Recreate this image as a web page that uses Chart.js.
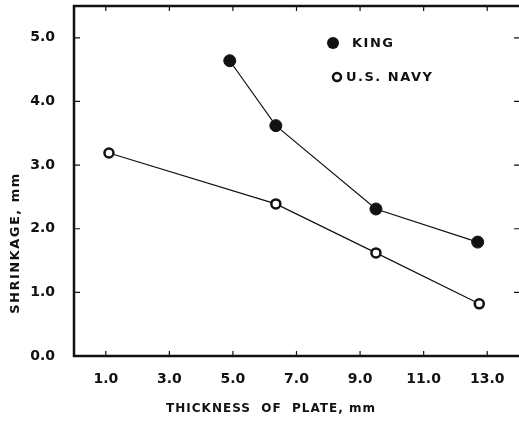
<!DOCTYPE html>
<html>
<head>
<meta charset="utf-8">
<script src="https://cdn.jsdelivr.net/npm/chart.js@4.4.1/dist/chart.umd.min.js"></script>
<style>
  html, body { margin: 0; padding: 0; background: #fff; }
  #wrap { width: 519px; height: 422px; }
</style>
</head>
<body>
<div id="wrap"><canvas id="c"></canvas></div>
<script>
// Shrinkage vs plate thickness

const kingThickness = [4.9, 6.35, 9.5, 12.7];
const kingShrinkage = [4.64, 3.62, 2.31, 1.79];
const navyThickness = [1.1, 6.35, 9.5, 12.75];
const navyShrinkage = [3.19, 2.39, 1.62, 0.82];
const xTicks = [1, 3, 5, 7, 9, 11, 13];
const yTicks = [0, 1, 2, 3, 4, 5];

const ink = "#111";
const tickFont = { family: "DejaVu Sans", weight: "bold", size: 14 };

function pts(xs, ys) {
    return xs.map((x, i) => ({ x: x, y: ys[i] }));
}

// frame, inward ticks, axis titles, legend
const decor = {
    id: "decor",
    afterDraw(chart) {
        const ctx = chart.ctx;
        const a = chart.chartArea;
        const xs = chart.scales.x, ys = chart.scales.y;
        ctx.save();
        ctx.strokeStyle = ink;
        ctx.lineWidth = 2.5;
        // right side of the frame falls just outside the picture
        ctx.beginPath();
        ctx.moveTo(a.right + 2, a.top);
        ctx.lineTo(a.left, a.top);
        ctx.lineTo(a.left, a.bottom);
        ctx.lineTo(a.right + 2, a.bottom);
        ctx.stroke();

        ctx.lineWidth = 1.2;
        ctx.beginPath();
        xTicks.forEach(v => {
            const px = xs.getPixelForValue(v);
            ctx.moveTo(px, a.bottom); ctx.lineTo(px, a.bottom - 5);
            ctx.moveTo(px, a.top); ctx.lineTo(px, a.top + 5);
        });
        yTicks.forEach(v => {
            const py = ys.getPixelForValue(v);
            ctx.moveTo(a.left, py); ctx.lineTo(a.left + 6, py);
            ctx.moveTo(a.right + 1, py); ctx.lineTo(a.right - 5, py);
        });
        ctx.stroke();

        ctx.fillStyle = ink;
        ctx.textBaseline = "middle";
        ctx.textAlign = "center";
        ctx.font = "bold 12px 'DejaVu Sans'";
        ctx.letterSpacing = "1px";
        ctx.fillText("THICKNESS  OF  PLATE, mm", 271, 409);

        ctx.save();
        ctx.translate(16, 243);
        ctx.rotate(-Math.PI / 2);
        ctx.font = "bold 13px 'DejaVu Sans'";
        ctx.letterSpacing = "1.5px";
        ctx.fillText("SHRINKAGE, mm", 0, 0);
        ctx.restore();

        // legend
        ctx.textAlign = "left";
        ctx.font = "bold 13px 'DejaVu Sans'";
        ctx.letterSpacing = "1.5px";
        ctx.beginPath();
        ctx.arc(333, 43, 6, 0, Math.PI * 2);
        ctx.fill();
        ctx.fillText(chart.data.datasets[0].label, 352, 44);

        ctx.beginPath();
        ctx.arc(337, 77, 4, 0, Math.PI * 2);
        ctx.fillStyle = "#fff";
        ctx.fill();
        ctx.lineWidth = 2.5;
        ctx.stroke();
        ctx.fillStyle = ink;
        ctx.fillText(chart.data.datasets[1].label, 346, 78);
        ctx.restore();
    }
};

new Chart(document.querySelector("#c").getContext("2d"), {
    type: "line",
    data: {
        datasets: [
            {
                label: "KING",
                data: pts(kingThickness, kingShrinkage),
                borderColor: ink,
                borderWidth: 1.2,
                backgroundColor: ink,
                pointRadius: 6,
                pointBorderWidth: 1,
                pointBorderColor: ink,
                pointBackgroundColor: ink,
                tension: 0,
                clip: false
            },
            {
                label: "U.S. NAVY",
                data: pts(navyThickness, navyShrinkage),
                borderColor: ink,
                borderWidth: 1.2,
                pointRadius: 4.5,
                pointBorderWidth: 2.5,
                pointBorderColor: ink,
                pointBackgroundColor: "#fff",
                tension: 0,
                clip: false
            }
        ]
    },
    options: {
        responsive: true,
        maintainAspectRatio: false,
        animation: false,
        layout: { autoPadding: false, padding: { top: 6, right: 0, left: 0, bottom: 0 } },
        plugins: {
            legend: { display: false },
            tooltip: { enabled: false }
        },
        scales: {
            x: {
                type: "linear",
                min: 0,
                max: 14,
                afterBuildTicks: s => { s.ticks = xTicks.map(v => ({ value: v })); },
                afterFit: s => { s.height = 66; s.paddingLeft = 0; s.paddingRight = 0; },
                grid: { display: false, drawTicks: false },
                border: { display: false },
                ticks: {
                    color: ink,
                    font: tickFont,
                    padding: 15,
                    maxRotation: 0,
                    callback: v => v.toFixed(1)
                }
            },
            y: {
                type: "linear",
                min: 0,
                max: 5.5,
                afterBuildTicks: s => { s.ticks = yTicks.map(v => ({ value: v })); },
                afterFit: s => { s.width = 74; s.paddingTop = 0; s.paddingBottom = 0; },
                grid: { display: false, drawTicks: false },
                border: { display: false },
                ticks: {
                    color: ink,
                    font: tickFont,
                    padding: 19,
                    callback: v => v.toFixed(1)
                }
            }
        }
    },
    plugins: [decor]
});
</script>
</body>
</html>
